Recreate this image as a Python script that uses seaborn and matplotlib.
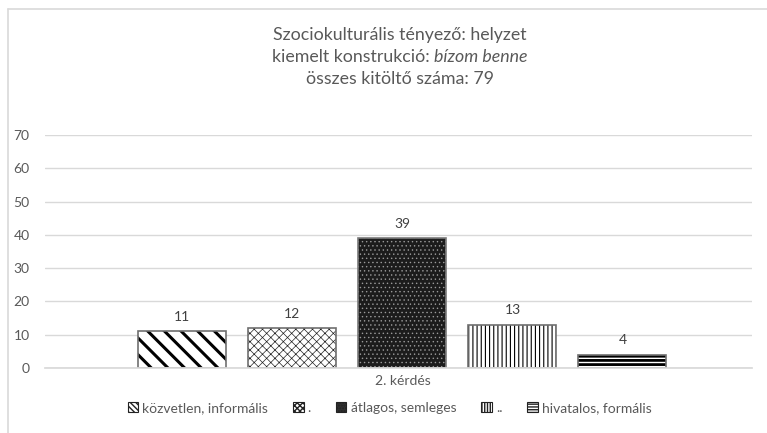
import pandas as pd
import matplotlib.pyplot as plt
import matplotlib.patches as mpatches
from matplotlib.colors import to_rgba
from matplotlib.lines import Line2D
import seaborn as sns

# data
question = ["2. kérdés"]
answers = ["közvetlen, informális", ".", "átlagos, semleges", "..", "hivatalos, formális"]
counts = [11, 12, 39, 13, 4]
y_ticks = [0, 10, 20, 30, 40, 50, 60, 70]

df = pd.DataFrame({"kérdés": question * len(answers), "válasz": answers, "db": counts})

sns.set_theme(style="white")
plt.rcParams["font.family"] = ["Lato", "DejaVu Sans"]
plt.rcParams["hatch.linewidth"] = 1.0

fig = plt.figure(figsize=(7.67, 4.33), dpi=100)
ax = fig.add_axes([45 / 767, 65 / 433, 707 / 767, 233 / 433])

sns.barplot(data=df, x="kérdés", y="db", hue="válasz", hue_order=answers,
            width=0.778, gap=0.2, dodge=True, legend=False, ax=ax,
            edgecolor="#6f6f6f", linewidth=1.2)

# pattern fills like the original Excel chart
styles = [
    dict(hatch="\\\\", face="white", edge="#6f6f6f", hc="black", lw=2.2, leg="\\\\\\\\\\\\"),
    dict(hatch="xxxx", face="white", edge="#6f6f6f", hc="#222222", lw=0.5, leg="xxxxxx"),
    dict(hatch="....", face="#1c1c1c", edge="#7a7a7a", hc="#9a9a9a", lw=0.5, leg="......"),
    dict(hatch="||||", face="white", edge="#6f6f6f", hc="black", lw=0.8, leg="||||||"),
    dict(hatch="----", face="white", edge="#6f6f6f", hc="black", lw=2.0, leg="------"),
]
bars = [c.patches[0] for c in ax.containers]
for bar, st in zip(bars, styles):
    bar.set_facecolor(st["face"])
    bar.set_hatch(st["hatch"])
    bar.set_edgecolor(st["edge"])
    if hasattr(bar, "set_hatch_linewidth"):
        bar.set_hatch_linewidth(st["lw"])
    bar._hatch_color = to_rgba(st["hc"])

for c in ax.containers:
    ax.bar_label(c, padding=6, fontsize=10, color="#404040")

ax.set_ylim(0, 70)
ax.set_xlim(-0.5056, 0.4944)
ax.set_yticks(y_ticks)
ax.yaxis.grid(True, color="#d9d9d9", linewidth=1)
ax.set_axisbelow(True)
for s in ["left", "right", "top"]:
    ax.spines[s].set_visible(False)
ax.spines["bottom"].set_color("#d9d9d9")
ax.tick_params(axis="both", length=0, labelsize=10, labelcolor="#595959")
ax.tick_params(axis="y", pad=11)
ax.tick_params(axis="x", pad=5)
ax.set_xlabel("")
ax.set_ylabel("")

# title, middle line partly italic
fs_title = 12.8
fig.text(0.521, 1 - 35 / 433, "Szociokulturális tényező: helyzet", ha="center", va="center",
         fontsize=fs_title, color="#595959")
fig.text(0.521, 1 - 79 / 433, "összes kitöltő száma: 79", ha="center", va="center",
         fontsize=fs_title, color="#595959")
fig.canvas.draw()
r = fig.canvas.get_renderer()
t1 = fig.text(0, 1 - 57 / 433, "kiemelt konstrukció: ", ha="left", va="center",
              fontsize=fs_title, color="#595959")
t2 = fig.text(0, 1 - 57 / 433, "bízom benne", ha="left", va="center",
              fontsize=fs_title, color="#595959", style="italic")
w1 = t1.get_window_extent(r).width / 767
w2 = t2.get_window_extent(r).width / 767
x0 = 0.521 - (w1 + w2) / 2
t1.set_x(x0)
t2.set_x(x0 + w1)

# legend with small hatched squares
handles = []
for st in styles:
    p = mpatches.Patch(facecolor="#303030" if st["face"] != "white" else "white",
                       edgecolor="#222222", hatch=st["leg"], linewidth=0.8)
    if hasattr(p, "set_hatch_linewidth"):
        p.set_hatch_linewidth(1.5)
    handles.append(p)
fig.legend(handles, answers, loc="center", bbox_to_anchor=(0.508, 1 - 408 / 433), ncol=5,
           frameon=False, fontsize=10, handlelength=0.75, handleheight=0.75,
           handletextpad=0.3, columnspacing=1.8, labelcolor="#595959")

# chart frame edges
fig.add_artist(Line2D([8 / 767, 8 / 767], [0, 1 - 9 / 433], color="#d9d9d9", lw=1.2))
fig.add_artist(Line2D([8 / 767, 1], [1 - 9 / 433, 1 - 9 / 433], color="#d9d9d9", lw=1.2))

fig.savefig("out.png", dpi=100)
